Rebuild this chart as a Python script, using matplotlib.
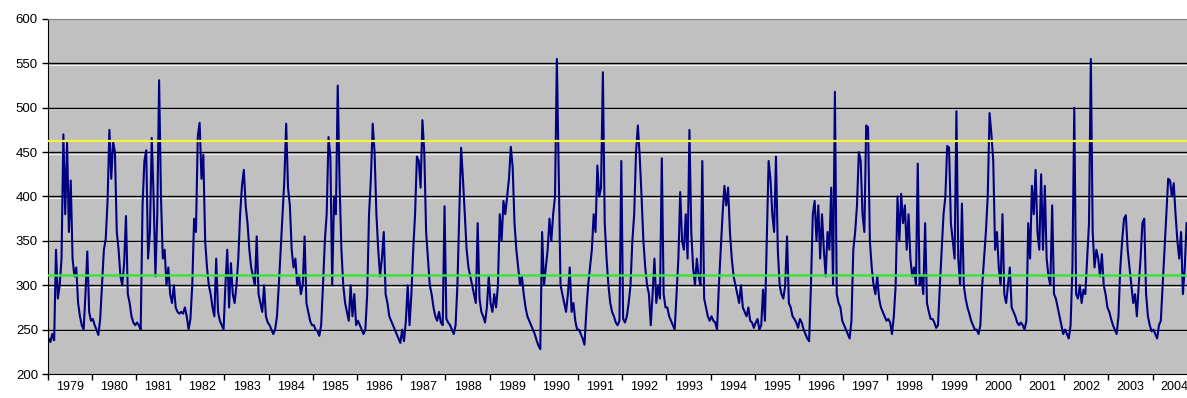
import numpy as np
import matplotlib.pyplot as plt
from matplotlib import transforms

plt.rcParams['font.family'] = ['Liberation Sans', 'DejaVu Sans']

# values, 24 samples per year (last year is cut off)
years = list(range(1979, 2005))
values = {
    1979: [240, 236, 245, 238, 340, 285, 300, 330, 470, 380, 461, 360, 418, 330, 310, 320, 280, 265, 255, 250, 290, 338, 270, 260],
    1980: [262, 255, 250, 244, 262, 300, 340, 352, 395, 475, 420, 462, 450, 360, 340, 310, 300, 325, 378, 290, 280, 265, 258, 255],
    1981: [258, 255, 250, 390, 440, 452, 330, 360, 466, 400, 310, 380, 531, 400, 330, 340, 300, 320, 290, 280, 300, 275, 270, 268],
    1982: [270, 268, 275, 265, 250, 262, 300, 375, 360, 468, 483, 420, 447, 350, 320, 300, 290, 275, 265, 330, 270, 260, 255, 250],
    1983: [300, 340, 275, 325, 290, 280, 300, 330, 380, 412, 430, 390, 370, 340, 320, 310, 300, 355, 290, 280, 270, 300, 265, 258],
    1984: [255, 250, 245, 250, 265, 300, 340, 380, 418, 482, 410, 390, 340, 320, 330, 300, 310, 290, 300, 355, 280, 270, 260, 255],
    1985: [255, 250, 248, 243, 255, 300, 350, 380, 467, 445, 300, 400, 380, 525, 415, 340, 300, 280, 270, 260, 300, 265, 290, 255],
    1986: [260, 255, 250, 245, 250, 290, 380, 420, 482, 450, 380, 340, 310, 330, 360, 290, 280, 265, 260, 255, 250, 245, 240, 235],
    1987: [250, 237, 260, 300, 255, 290, 340, 380, 445, 440, 410, 486, 450, 360, 330, 300, 290, 275, 265, 260, 270, 258, 255, 389],
    1988: [262, 258, 255, 250, 245, 255, 300, 380, 455, 420, 380, 340, 320, 310, 300, 290, 280, 370, 285, 270, 265, 258, 275, 310],
    1989: [280, 270, 290, 275, 300, 380, 350, 395, 380, 400, 420, 456, 433, 370, 340, 320, 300, 310, 290, 275, 265, 260, 255, 250],
    1990: [245, 238, 232, 228, 360, 300, 320, 340, 375, 350, 380, 400, 555, 430, 300, 290, 280, 270, 290, 320, 270, 280, 260, 250],
    1991: [250, 245, 240, 233, 270, 300, 320, 340, 380, 360, 435, 400, 410, 540, 370, 330, 300, 280, 270, 265, 258, 255, 260, 440],
    1992: [262, 258, 265, 280, 300, 350, 380, 450, 480, 445, 400, 350, 320, 300, 290, 255, 290, 330, 280, 300, 285, 443, 290, 275],
    1993: [275, 265, 260, 255, 250, 290, 330, 405, 350, 340, 380, 330, 475, 360, 320, 300, 330, 310, 300, 440, 285, 275, 265, 260],
    1994: [265, 260, 258, 250, 300, 340, 380, 412, 390, 410, 360, 330, 310, 300, 290, 280, 300, 275, 270, 265, 275, 260, 258, 252],
    1995: [258, 262, 250, 255, 295, 260, 350, 440, 420, 380, 360, 445, 340, 300, 290, 285, 300, 355, 280, 275, 265, 262, 258, 252],
    1996: [262, 258, 250, 245, 240, 237, 300, 380, 395, 350, 390, 330, 380, 340, 310, 360, 340, 410, 300, 518, 290, 280, 275, 260],
    1997: [255, 250, 245, 240, 260, 340, 360, 390, 450, 440, 380, 360, 480, 478, 350, 320, 300, 290, 310, 285, 275, 270, 265, 260],
    1998: [262, 258, 245, 265, 300, 400, 350, 403, 370, 390, 340, 380, 330, 310, 320, 300, 437, 300, 310, 290, 370, 280, 270, 262],
    1999: [262, 258, 252, 255, 300, 340, 380, 400, 457, 455, 370, 350, 330, 496, 330, 300, 392, 300, 285, 275, 268, 260, 255, 250],
    2000: [250, 245, 255, 300, 330, 360, 400, 494, 470, 440, 340, 360, 320, 300, 380, 290, 280, 300, 320, 275, 270, 265, 258, 255],
    2001: [258, 255, 250, 260, 370, 330, 412, 380, 430, 360, 340, 425, 340, 412, 330, 310, 300, 390, 290, 285, 275, 265, 255, 245],
    2002: [250, 245, 240, 255, 320, 500, 290, 285, 300, 280, 295, 290, 330, 370, 555, 360, 320, 340, 330, 310, 335, 300, 290, 275],
    2003: [270, 262, 255, 250, 245, 265, 320, 350, 375, 379, 340, 320, 300, 280, 290, 265, 300, 330, 370, 375, 290, 265, 255, 248],
    2004: [250, 245, 240, 255, 260, 300, 340, 380, 420, 418, 400, 415, 380, 350, 330, 360, 290, 320, 370],
}
upper_level = 462
lower_level = 312

t = []
v = []
for yr in years:
    for i, val in enumerate(values[yr]):
        t.append(yr + (i + 0.5) / 24)
        v.append(val)

fig = plt.figure(figsize=(11.87, 3.98), dpi=100)
ax = fig.add_axes([0.0402, 0.0603, 0.9598, 0.892])
ax.set_facecolor('#c0c0c0')

# excel style gridlines: black line with a light line just under it
shift = transforms.offset_copy(ax.get_yaxis_transform(), fig=fig, x=0, y=-1.6, units='dots')
for g in range(250, 600, 50):
    ax.plot([0, 1], [g, g], color='#f0f0f0', lw=0.8, transform=shift, zorder=1)
    ax.axhline(g, color='black', lw=1.0, zorder=1.5)

ax.plot(t, v, color='#000080', lw=1.5, zorder=2)
ax.axhline(upper_level, color='#f4f43c', lw=1.6, zorder=3)
ax.axhline(lower_level, color='#3ee23e', lw=1.8, zorder=3)

ax.set_xlim(1979, 2004.78)
ax.set_ylim(200, 600)
ax.set_yticks(range(200, 601, 50))

ax.set_xticks(range(1979, 2005))
ax.set_xticklabels([])
ax.set_xticks([y + 0.5 for y in years], minor=True)
ax.set_xticklabels([str(y) for y in years], minor=True, fontsize=9)
ax.tick_params(axis='x', which='major', length=4, width=1, direction='out')
ax.tick_params(axis='x', which='minor', length=0, pad=5)
ax.tick_params(axis='y', length=4, width=1, labelsize=9.5, pad=3)

ax.spines['right'].set_visible(False)
ax.spines['top'].set_color('#808080')
ax.spines['left'].set_color('black')
ax.spines['bottom'].set_color('black')

plt.savefig('out.png', dpi=100)
